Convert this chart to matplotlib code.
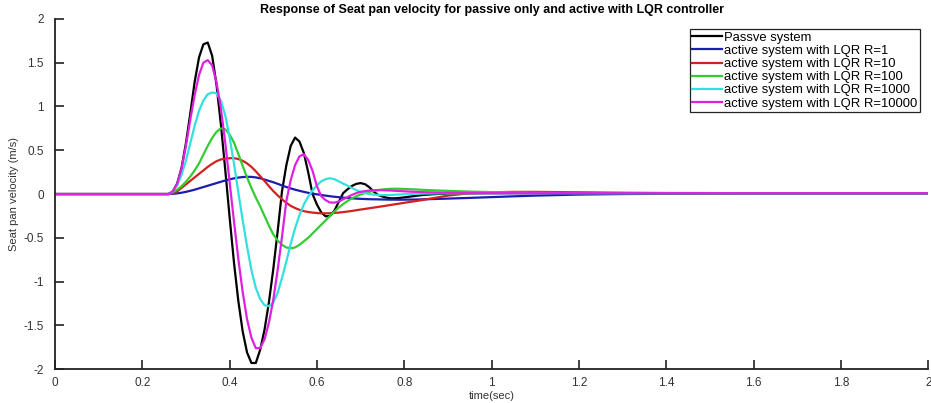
import matplotlib
matplotlib.use('Agg')
import matplotlib.pyplot as plt

plt.rcParams['font.family'] = ['Liberation Sans', 'DejaVu Sans']

# time axis (sec)
t = [0.0, 0.25, 0.26, 0.27, 0.28, 0.29, 0.30, 0.31, 0.32, 0.33, 0.34,
     0.35, 0.36, 0.37, 0.38, 0.39, 0.40, 0.41, 0.42, 0.43, 0.44,
     0.45, 0.46, 0.47, 0.48, 0.49, 0.50, 0.51, 0.52, 0.53, 0.54,
     0.55, 0.56, 0.57, 0.58, 0.59, 0.60, 0.61, 0.62, 0.63, 0.64,
     0.65, 0.66, 0.67, 0.68, 0.69, 0.70, 0.71, 0.72, 0.73, 0.74,
     0.75, 0.76, 0.77, 0.78, 0.79, 0.80,
     0.82, 0.84, 0.86, 0.88, 0.90, 0.95, 1.0, 1.05, 1.1, 1.2, 1.3, 1.4, 1.6, 1.8, 2.0]

# seat pan velocity (m/s) for each case
passive = [0, 0, 0, 0.03, 0.12, 0.30, 0.58, 0.92, 1.28, 1.56, 1.71,
           1.73, 1.58, 1.25, 0.80, 0.28, -0.26, -0.78, -1.22, -1.57, -1.81,
           -1.93, -1.93, -1.78, -1.55, -1.24, -0.86, -0.43, 0.03, 0.33, 0.55,
           0.645, 0.60, 0.47, 0.25, 0.0, -0.12, -0.21, -0.255, -0.25, -0.19,
           -0.09, 0.01, 0.054, 0.092, 0.116, 0.125, 0.113, 0.078, 0.028, -0.01,
           -0.028, -0.042, -0.049, -0.048, -0.044, -0.038,
           -0.025, -0.012, -0.004, 0.002, 0.005, 0.008, 0.009, 0.01, 0.01, 0.01, 0.01, 0.01, 0.01, 0.01, 0.01]

r1 = [0, 0, 0, 0.003, 0.008, 0.015, 0.025, 0.037, 0.05, 0.065, 0.08,
      0.095, 0.11, 0.125, 0.14, 0.155, 0.168, 0.179, 0.188, 0.194, 0.197,
      0.196, 0.19, 0.18, 0.166, 0.15, 0.135, 0.117, 0.098, 0.08, 0.064,
      0.05, 0.037, 0.025, 0.014, 0.005, -0.003, -0.011, -0.018, -0.025, -0.031,
      -0.036, -0.041, -0.045, -0.049, -0.052, -0.055, -0.057, -0.059, -0.06, -0.061,
      -0.062, -0.063, -0.064, -0.064, -0.065, -0.064,
      -0.063, -0.061, -0.058, -0.055, -0.052, -0.044, -0.035, -0.026, -0.018, -0.006, 0.0, 0.003, 0.005, 0.006, 0.006]

r10 = [0, 0, 0, 0.01, 0.03, 0.07, 0.11, 0.15, 0.19, 0.23, 0.27,
       0.31, 0.345, 0.375, 0.395, 0.405, 0.41, 0.41, 0.40, 0.38, 0.35,
       0.31, 0.26, 0.205, 0.15, 0.09, 0.035, -0.015, -0.06, -0.10, -0.135,
       -0.16, -0.18, -0.195, -0.205, -0.212, -0.217, -0.22, -0.22, -0.219, -0.216,
       -0.212, -0.206, -0.2, -0.193, -0.185, -0.177, -0.17, -0.162, -0.155, -0.147,
       -0.14, -0.132, -0.124, -0.116, -0.108, -0.1,
       -0.085, -0.07, -0.052, -0.035, -0.018, 0.01, 0.02, 0.025, 0.025, 0.02, 0.015, 0.012, 0.01, 0.01, 0.01]

r100 = [0, 0, 0, 0.02, 0.05, 0.09, 0.14, 0.20, 0.27, 0.35, 0.45,
        0.55, 0.64, 0.71, 0.75, 0.74, 0.68, 0.59, 0.46, 0.32, 0.19,
        0.07, -0.04, -0.14, -0.25, -0.36, -0.46, -0.53, -0.58, -0.61, -0.62,
        -0.61, -0.58, -0.54, -0.50, -0.45, -0.40, -0.35, -0.30, -0.25, -0.20,
        -0.155, -0.115, -0.08, -0.05, -0.025, -0.005, 0.012, 0.025, 0.036, 0.045,
        0.052, 0.057, 0.06, 0.061, 0.06, 0.058,
        0.054, 0.049, 0.044, 0.04, 0.036, 0.028, 0.022, 0.018, 0.015, 0.012, 0.01, 0.01, 0.01, 0.01, 0.01]

r1000 = [0, 0, 0, 0.03, 0.10, 0.22, 0.38, 0.58, 0.78, 0.95, 1.07,
         1.14, 1.16, 1.15, 1.07, 0.90, 0.65, 0.35, 0.02, -0.30, -0.60,
         -0.87, -1.07, -1.20, -1.27, -1.28, -1.24, -1.13, -0.96, -0.77, -0.57,
         -0.39, -0.24, -0.12, -0.03, 0.04, 0.10, 0.145, 0.17, 0.18, 0.17,
         0.145, 0.12, 0.095, 0.07, 0.045, 0.025, 0.01, 0.0, -0.007, -0.01,
         -0.012, -0.012, -0.01, -0.008, -0.005, -0.002,
         0.002, 0.005, 0.007, 0.008, 0.009, 0.01, 0.01, 0.01, 0.01, 0.01, 0.01, 0.01, 0.01, 0.01, 0.01]

r10000 = [0, 0, 0, 0.03, 0.12, 0.29, 0.55, 0.85, 1.13, 1.36, 1.50,
          1.53, 1.47, 1.28, 0.98, 0.59, 0.14, -0.31, -0.74, -1.12, -1.43,
          -1.64, -1.76, -1.76, -1.66, -1.47, -1.21, -0.87, -0.49, -0.08, 0.16,
          0.33, 0.43, 0.455, 0.39, 0.265, 0.09, -0.026, -0.07, -0.097, -0.098,
          -0.085, -0.06, -0.035, -0.01, 0.01, 0.025, 0.033, 0.04, 0.043, 0.045,
          0.044, 0.042, 0.04, 0.037, 0.034, 0.031,
          0.026, 0.022, 0.019, 0.016, 0.014, 0.012, 0.011, 0.01, 0.01, 0.01, 0.01, 0.01, 0.01, 0.01, 0.01]

labels = ['Passve system',
          'active system with LQR R=1',
          'active system with LQR R=10',
          'active system with LQR R=100',
          'active system with LQR R=1000',
          'active system with LQR R=10000']
colors = ['#000000', '#1c1cb0', '#d42020', '#33cc33', '#33e0e0', '#e020e0']

xticks = [0, 0.2, 0.4, 0.6, 0.8, 1, 1.2, 1.4, 1.6, 1.8, 2]
xticklabels = ['0', '0.2', '0.4', '0.6', '0.8', '1', '1.2', '1.4', '1.6', '1.8', '2']
yticks = [-2, -1.5, -1, -0.5, 0, 0.5, 1, 1.5, 2]
yticklabels = ['-2', '-1.5', '-1', '-0.5', '0', '0.5', '1', '1.5', '2']

fig = plt.figure(figsize=(9.31, 4.03), dpi=100)
ax = fig.add_axes([0.059, 0.084, 0.938, 0.869])

series = [passive, r1, r10, r100, r1000, r10000]
for ys, c, lab in zip(series, colors, labels):
    ax.plot(t, ys, color=c, linewidth=1.6, label=lab)

ax.set_xlim(0, 2)
ax.set_ylim(-2, 2)
ax.set_xticks(xticks)
ax.set_xticklabels(xticklabels)
ax.set_yticks(yticks)
ax.set_yticklabels(yticklabels)
ax.tick_params(direction='in', length=6.5, width=1.2, labelsize=8.5,
               labelcolor='#333333', color='#222222')
ax.tick_params(axis='x', pad=6)
ax.tick_params(axis='y', pad=8)
for s in ['top', 'right']:
    ax.spines[s].set_visible(False)
for s in ['left', 'bottom']:
    ax.spines[s].set_linewidth(1.3)
    ax.spines[s].set_color('#222222')

ax.set_xlabel('time(sec)', fontsize=8, color='#333333', labelpad=1)
ax.set_ylabel('Seat pan velocity (m/s)', fontsize=8, color='#333333', labelpad=3)
ax.set_title('Response of Seat pan velocity for passive only and active with LQR controller',
             fontsize=9, fontweight='bold', pad=4)

leg = ax.legend(loc='upper right', bbox_to_anchor=(920 / 931, 1 - 29 / 403),
                bbox_transform=fig.transFigure, borderaxespad=0,
                fontsize=9.4, fancybox=False, framealpha=1, edgecolor='#222222',
                handlelength=2.3, handletextpad=0.15, labelspacing=0.08,
                borderpad=0.2)
leg.get_frame().set_linewidth(0.9)

fig.savefig('out.png', dpi=100)
